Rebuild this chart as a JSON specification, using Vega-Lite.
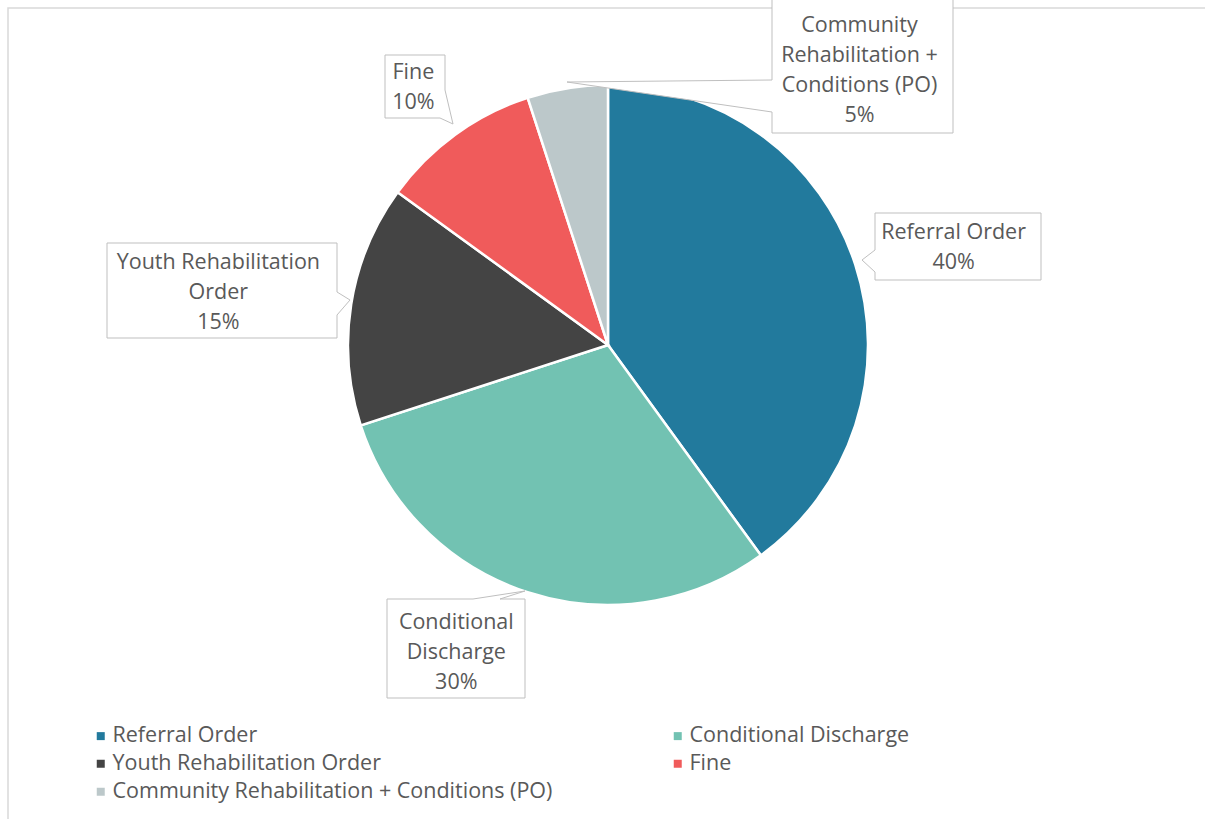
{
  "$schema": "https://vega.github.io/schema/vega-lite/v6.json",
  "width": 1194,
  "height": 690,
  "padding": {"left": 11, "top": 0, "right": 0, "bottom": 129},
  "autosize": {"type": "none"},
  "background": "white",
  "config": {"view": {"stroke": null}, "font": "Open Sans"},
  "data": {
    "values": [
      {"category": "Referral Order", "pct": 40, "ord": 1, "label": ["Referral Order", "40%"]},
      {"category": "Conditional Discharge", "pct": 30, "ord": 2, "label": ["Conditional", "Discharge", "30%"]},
      {"category": "Youth Rehabilitation Order", "pct": 15, "ord": 3, "label": ["Youth Rehabilitation", "Order", "15%"]},
      {"category": "Fine", "pct": 10, "ord": 4, "label": ["Fine", "10%"]},
      {"category": "Community Rehabilitation + Conditions (PO)", "pct": 5, "ord": 5, "label": ["Community", "Rehabilitation +", "Conditions (PO)", "5%"]}
    ]
  },
  "layer": [
    {
      "transform": [{"filter": "datum.category === 'Referral Order'"}],
      "mark": {"type": "point", "size": 4, "filled": false, "stroke": "#D9D9D9", "strokeWidth": 1.5, "opacity": 1,
        "shape": "M-600,-337H610V490H-600Z"},
      "encoding": {}
    },
    {
      "mark": {"type": "arc", "outerRadius": 260, "stroke": "white", "strokeWidth": 2.5},
      "encoding": {
        "theta": {"field": "pct", "type": "quantitative", "stack": true},
        "order": {"field": "ord", "type": "quantitative"},
        "color": {
          "field": "category",
          "type": "nominal",
          "sort": ["Referral Order", "Youth Rehabilitation Order", "Community Rehabilitation + Conditions (PO)", "Conditional Discharge", "Fine"],
          "scale": {
            "domain": ["Referral Order", "Youth Rehabilitation Order", "Community Rehabilitation + Conditions (PO)", "Conditional Discharge", "Fine"],
            "range": ["#227A9D", "#444444", "#BCC8CA", "#72C2B2", "#F05B5B"]
          },
          "legend": {
            "orient": "none",
            "legendX": 79,
            "legendY": 725,
            "title": null,
            "columns": 2,
            "symbolType": "square",
            "symbolSize": 64,
            "symbolStrokeWidth": 0,
            "labelFontSize": 21.5,
            "labelColor": "#595959",
            "labelFont": "Open Sans",
            "labelOffset": 1,
            "labelLimit": 0,
            "rowPadding": 5,
            "columnPadding": 114,
            "padding": 0
          }
        }
      }
    },
    {
      "transform": [{"filter": "datum.category === 'Referral Order'"}],
      "mark": {"type": "point", "size": 4, "filled": true, "fill": "white", "stroke": "#BFBFBF", "strokeWidth": 1, "opacity": 1, "fillOpacity": 1,
        "shape": "M267,-132H433V-65H267V-73L254,-85L267,-95Z"},
      "encoding": {}
    },
    {
      "transform": [{"filter": "datum.category === 'Conditional Discharge'"}],
      "mark": {"type": "point", "size": 4, "filled": true, "fill": "white", "stroke": "#BFBFBF", "strokeWidth": 1, "opacity": 1, "fillOpacity": 1,
        "shape": "M-221,254H-135L-83,246L-108,254H-83V353H-221Z"},
      "encoding": {}
    },
    {
      "transform": [{"filter": "datum.category === 'Youth Rehabilitation Order'"}],
      "mark": {"type": "point", "size": 4, "filled": true, "fill": "white", "stroke": "#BFBFBF", "strokeWidth": 1, "opacity": 1, "fillOpacity": 1,
        "shape": "M-501,-102H-271V-53L-258,-45L-271,-30V-7H-501Z"},
      "encoding": {}
    },
    {
      "transform": [{"filter": "datum.category === 'Fine'"}],
      "mark": {"type": "point", "size": 4, "filled": true, "fill": "white", "stroke": "#BFBFBF", "strokeWidth": 1, "opacity": 1, "fillOpacity": 1,
        "shape": "M-223,-290H-163V-255L-155,-221L-168,-227H-223Z"},
      "encoding": {}
    },
    {
      "transform": [{"filter": "datum.category === 'Community Rehabilitation + Conditions (PO)'"}],
      "mark": {"type": "point", "size": 4, "filled": true, "fill": "white", "stroke": "#BFBFBF", "strokeWidth": 1, "opacity": 1, "fillOpacity": 1,
        "shape": "M164,-347H345V-212H164V-233L-41,-263L164,-265Z"},
      "encoding": {}
    },
    {
      "mark": {"type": "text", "fontSize": 21.5, "lineHeight": 30, "color": "#595959", "align": "center", "baseline": "middle", "dx": 8, "dy": -2},
      "encoding": {
        "theta": {"field": "pct", "type": "quantitative", "stack": true},
        "order": {"field": "ord", "type": "quantitative"},
        "radius": {"value": 355},
        "detail": {"field": "category", "type": "nominal"},
        "text": {"field": "label", "type": "nominal"},
        "opacity": {"condition": {"test": "datum.category === 'Referral Order'", "value": 1}, "value": 0}
      }
    },
    {
      "mark": {"type": "text", "fontSize": 21.5, "lineHeight": 30, "color": "#595959", "align": "center", "baseline": "middle", "dx": -42, "dy": -60},
      "encoding": {
        "theta": {"field": "pct", "type": "quantitative", "stack": true},
        "order": {"field": "ord", "type": "quantitative"},
        "radius": {"value": 355},
        "detail": {"field": "category", "type": "nominal"},
        "text": {"field": "label", "type": "nominal"},
        "opacity": {"condition": {"test": "datum.category === 'Conditional Discharge'", "value": 1}, "value": 0}
      }
    },
    {
      "mark": {"type": "text", "fontSize": 21.5, "lineHeight": 30, "color": "#595959", "align": "center", "baseline": "middle", "dx": -39, "dy": -26},
      "encoding": {
        "theta": {"field": "pct", "type": "quantitative", "stack": true},
        "order": {"field": "ord", "type": "quantitative"},
        "radius": {"value": 355},
        "detail": {"field": "category", "type": "nominal"},
        "text": {"field": "label", "type": "nominal"},
        "opacity": {"condition": {"test": "datum.category === 'Youth Rehabilitation Order'", "value": 1}, "value": 0}
      }
    },
    {
      "mark": {"type": "text", "fontSize": 21.5, "lineHeight": 30, "color": "#595959", "align": "center", "baseline": "middle", "dx": 14, "dy": 15},
      "encoding": {
        "theta": {"field": "pct", "type": "quantitative", "stack": true},
        "order": {"field": "ord", "type": "quantitative"},
        "radius": {"value": 355},
        "detail": {"field": "category", "type": "nominal"},
        "text": {"field": "label", "type": "nominal"},
        "opacity": {"condition": {"test": "datum.category === 'Fine'", "value": 1}, "value": 0}
      }
    },
    {
      "mark": {"type": "text", "fontSize": 21.5, "lineHeight": 30, "color": "#595959", "align": "center", "baseline": "middle", "dx": 307, "dy": 32},
      "encoding": {
        "theta": {"field": "pct", "type": "quantitative", "stack": true},
        "order": {"field": "ord", "type": "quantitative"},
        "radius": {"value": 355},
        "detail": {"field": "category", "type": "nominal"},
        "text": {"field": "label", "type": "nominal"},
        "opacity": {"condition": {"test": "datum.category === 'Community Rehabilitation + Conditions (PO)'", "value": 1}, "value": 0}
      }
    }
  ]
}
